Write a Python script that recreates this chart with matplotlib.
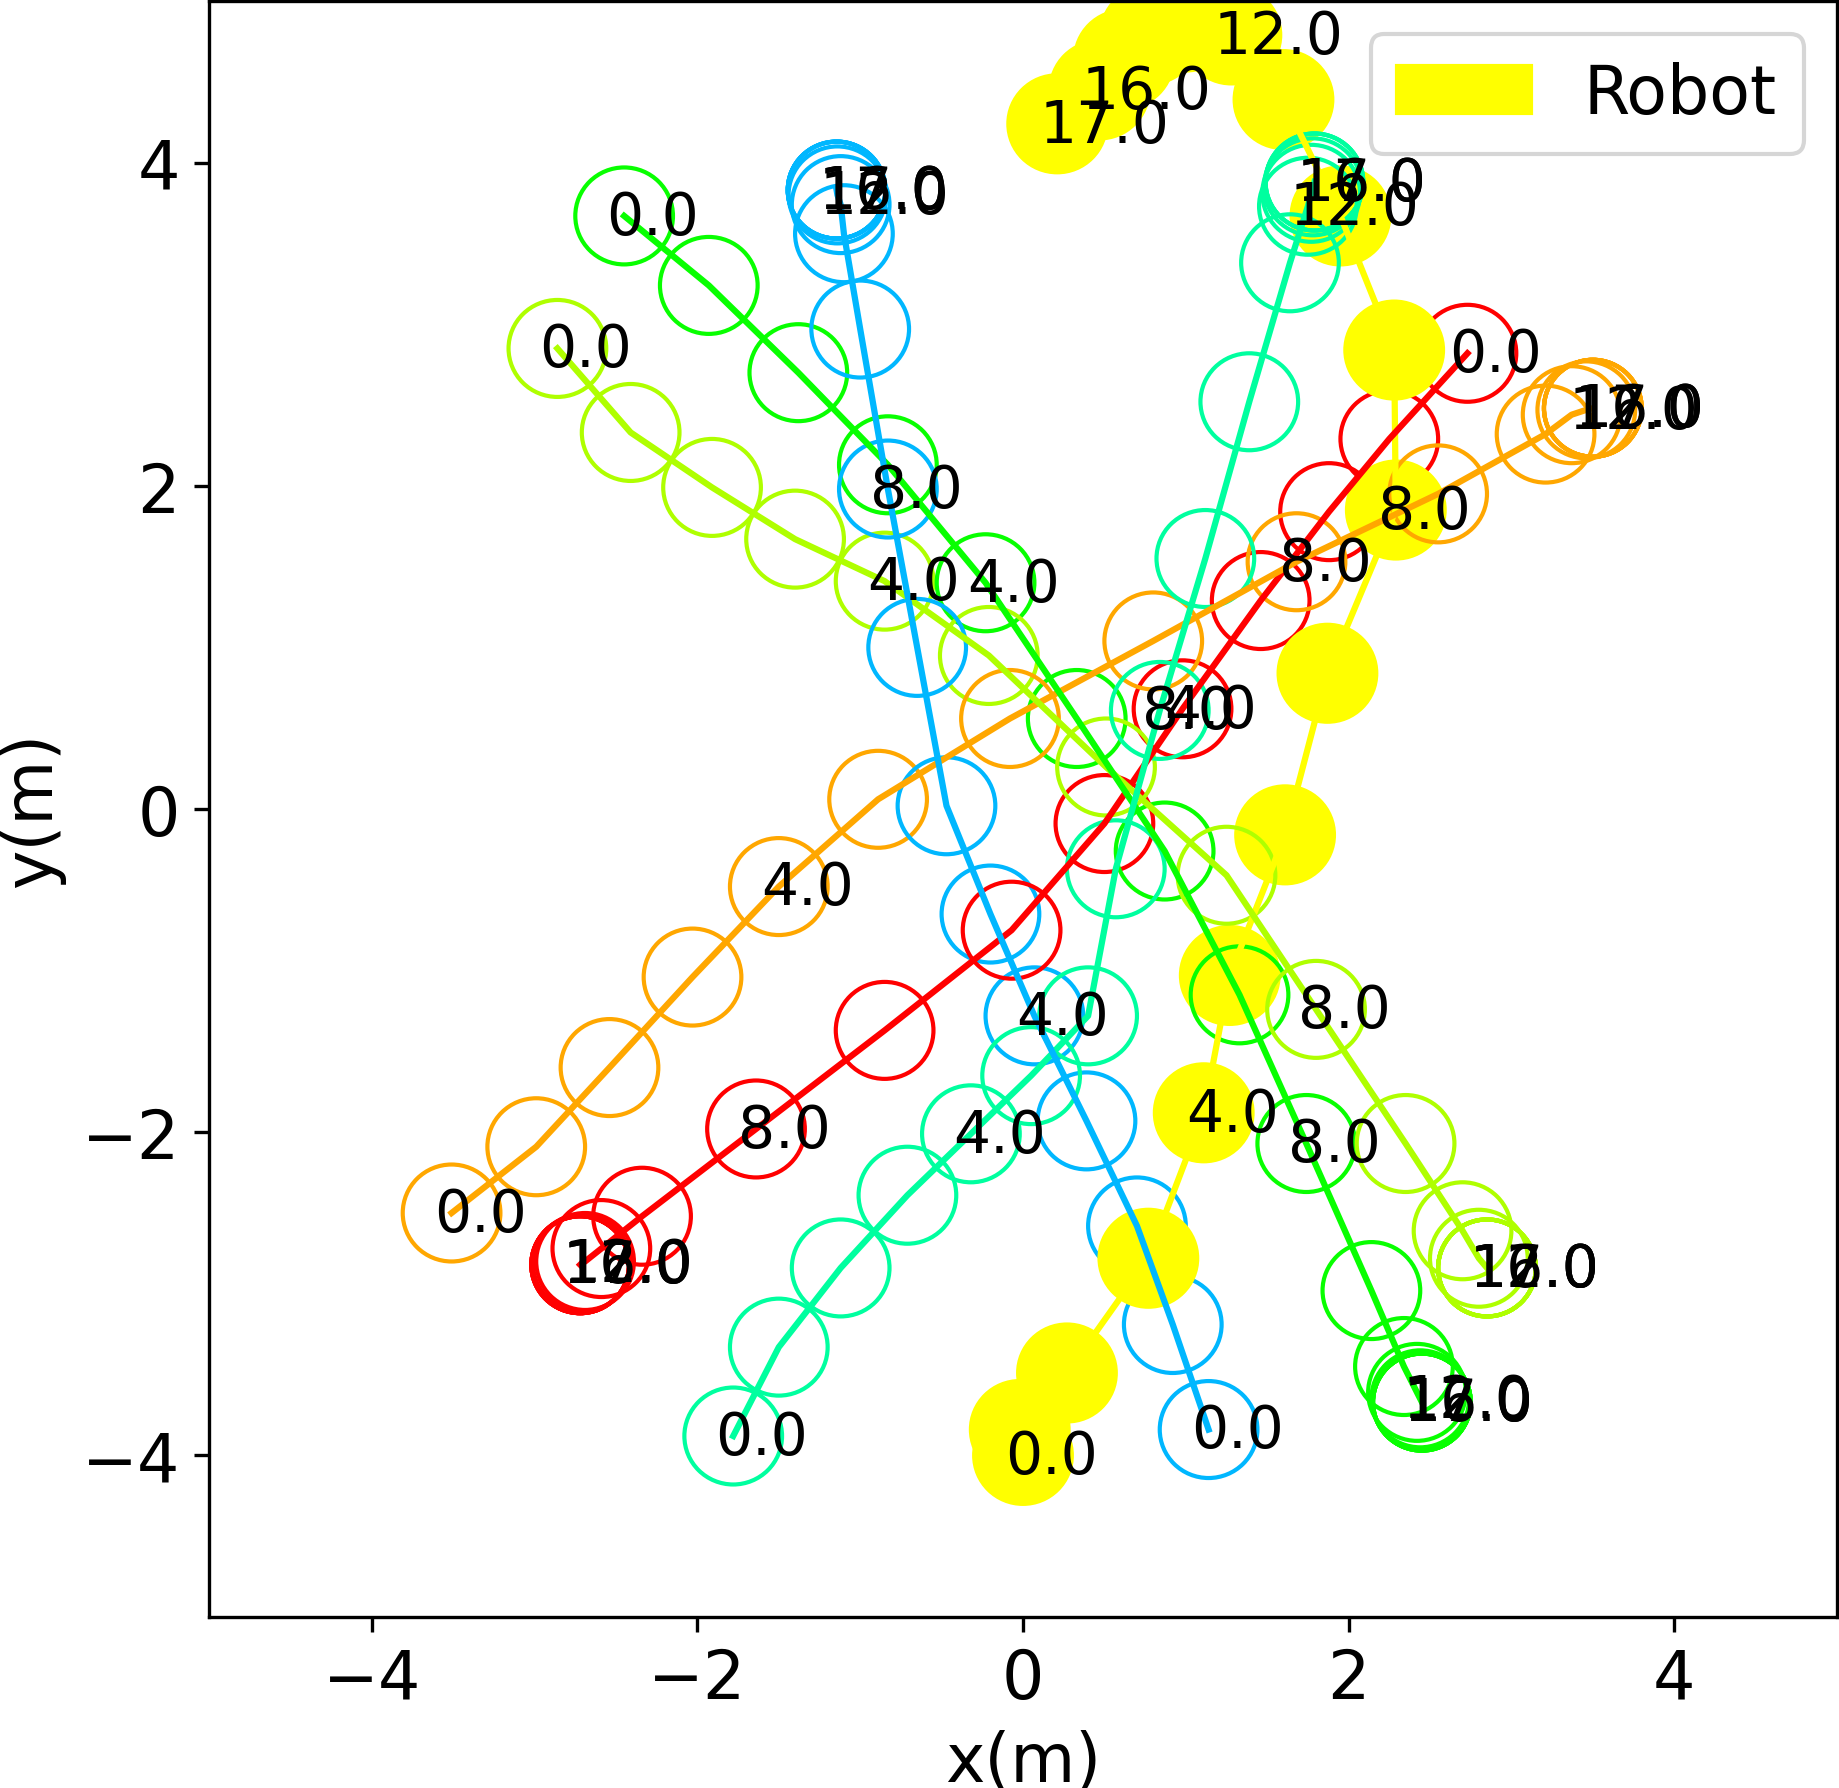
import matplotlib
matplotlib.use("Agg")
import matplotlib.pyplot as plt
from matplotlib.patches import Circle

# one state per second, label every 4 states and the last one
time_step = 1.0
radius = 0.3

# robot trajectory (x, y) in m
robot_x = [0.00, -0.02, 0.27, 0.77, 1.11, 1.27, 1.61, 1.87, 2.29, 2.28, 1.95, 1.60,
           1.28, 1.00, 0.78, 0.62, 0.47, 0.21]
robot_y = [-4.00, -3.84, -3.49, -2.78, -1.88, -1.03, -0.16, 0.84, 1.85, 2.84, 3.67, 4.39,
           4.79, 4.87, 4.79, 4.64, 4.45, 4.24]

# human trajectories
human0_x = [2.73, 2.25, 1.88, 1.46, 0.98, 0.50, -0.07, -0.85, -1.64, -2.34, -2.59, -2.69,
            -2.71, -2.72, -2.72, -2.72, -2.72, -2.72]
human0_y = [2.82, 2.29, 1.84, 1.29, 0.62, -0.09, -0.75, -1.37, -1.98, -2.52, -2.72, -2.80,
            -2.81, -2.82, -2.82, -2.82, -2.82, -2.82]
human1_x = [-3.51, -2.99, -2.54, -2.03, -1.50, -0.89, -0.08, 0.80, 1.68, 2.55, 3.21, 3.37,
            3.46, 3.50, 3.50, 3.50, 3.50, 3.50]
human1_y = [-2.50, -2.09, -1.60, -1.04, -0.48, 0.06, 0.56, 1.04, 1.53, 1.95, 2.32, 2.44,
            2.47, 2.48, 2.48, 2.48, 2.48, 2.48]
human2_x = [-2.86, -2.41, -1.91, -1.40, -0.85, -0.21, 0.51, 1.25, 1.80, 2.35, 2.70, 2.80,
            2.85, 2.85, 2.85, 2.85, 2.85, 2.85]
human2_y = [2.85, 2.33, 1.99, 1.67, 1.41, 0.95, 0.26, -0.41, -1.24, -2.07, -2.61, -2.78,
            -2.84, -2.84, -2.84, -2.84, -2.84, -2.84]
human3_x = [-2.45, -1.93, -1.38, -0.83, -0.23, 0.33, 0.87, 1.33, 1.74, 2.14, 2.34, 2.42,
            2.44, 2.45, 2.45, 2.45, 2.45, 2.45]
human3_y = [3.67, 3.24, 2.70, 2.13, 1.40, 0.56, -0.26, -1.15, -2.07, -2.98, -3.45, -3.61,
            -3.65, -3.67, -3.67, -3.67, -3.67, -3.67]
human4_x = [-1.78, -1.50, -1.12, -0.71, -0.32, 0.05, 0.40, 0.57, 0.84, 1.12, 1.39, 1.64,
            1.75, 1.77, 1.78, 1.79, 1.79, 1.79]
human4_y = [-3.88, -3.33, -2.84, -2.39, -2.01, -1.65, -1.28, -0.37, 0.61, 1.55, 2.52, 3.38,
            3.73, 3.81, 3.85, 3.88, 3.88, 3.88]
human5_x = [1.14, 0.92, 0.70, 0.39, 0.07, -0.20, -0.47, -0.65, -0.83, -1.00, -1.10, -1.12,
            -1.14, -1.145, -1.145, -1.145, -1.145, -1.145]
human5_y = [-3.84, -3.19, -2.58, -1.93, -1.28, -0.65, 0.02, 1.00, 1.98, 2.97, 3.56, 3.74,
            3.80, 3.83, 3.83, 3.83, 3.83, 3.83]

humans = [(human0_x, human0_y), (human1_x, human1_y), (human2_x, human2_y),
          (human3_x, human3_y), (human4_x, human4_y), (human5_x, human5_y)]

fig = plt.figure(figsize=(1839 / 300, 1789 / 300), dpi=300)
ax = fig.add_axes([209 / 1839, 1 - 1618 / 1789, 1628 / 1839, 1616 / 1789])
ax.tick_params(labelsize=16)
ax.set_xlim(-5, 5)
ax.set_ylim(-5, 5)
ax.set_xlabel('x(m)', fontsize=16)
ax.set_ylabel('y(m)', fontsize=16)

cmap = matplotlib.colormaps['hsv'].resampled(10)
robot_color = 'yellow'
x_offset = 0.11
y_offset = 0.11

n_steps = len(robot_x)
robot = None
for k in range(n_steps):
    robot = Circle((robot_x[k], robot_y[k]), radius, fill=True, color=robot_color)
    ax.add_artist(robot)
    for i, (hx, hy) in enumerate(humans):
        ax.add_artist(Circle((hx[k], hy[k]), radius, fill=False, color=cmap(i)))

    if k % 4 == 0 or k == n_steps - 1:
        t = k * time_step
        agents = [(robot_x[k], robot_y[k])] + [(hx[k], hy[k]) for hx, hy in humans]
        for cx, cy in agents:
            ax.text(cx - x_offset, cy - y_offset, '{:.1f}'.format(t), color='black',
                    fontsize=14, zorder=3)

# trajectories
ax.plot(robot_x, robot_y, color=robot_color, ls='solid')
for i, (hx, hy) in enumerate(humans):
    ax.plot(hx, hy, color=cmap(i), ls='solid')

ax.legend([robot], ['Robot'], fontsize=16, loc='upper right')

fig.savefig('out.png', dpi=300)
